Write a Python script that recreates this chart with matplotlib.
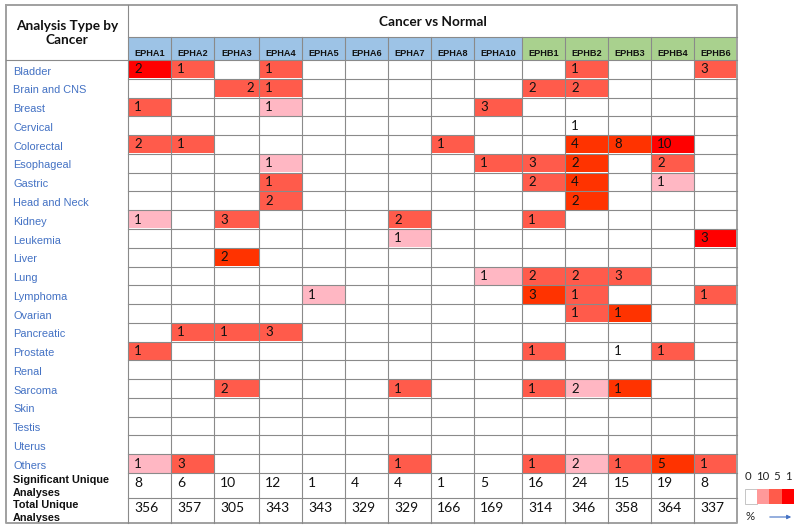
import matplotlib
matplotlib.use("Agg")
import matplotlib.pyplot as plt
from matplotlib.patches import Rectangle, FancyArrowPatch

# ---------------- data ----------------
genes = ["EPHA1", "EPHA2", "EPHA3", "EPHA4", "EPHA5", "EPHA6", "EPHA7",
         "EPHA8", "EPHA10", "EPHB1", "EPHB2", "EPHB3", "EPHB4", "EPHB6"]
gene_family = ["A"] * 9 + ["B"] * 5
cancers = ["Bladder", "Brain and CNS", "Breast", "Cervical", "Colorectal",
           "Esophageal", "Gastric", "Head and Neck", "Kidney", "Leukemia",
           "Liver", "Lung", "Lymphoma", "Ovarian", "Pancreatic", "Prostate",
           "Renal", "Sarcoma", "Skin", "Testis", "Uterus", "Others"]
# number of analyses per cell (0 = empty)
counts = [
    [2, 1, 0, 1, 0, 0, 0, 0, 0, 0, 1, 0, 0, 3],
    [0, 0, 2, 1, 0, 0, 0, 0, 0, 2, 2, 0, 0, 0],
    [1, 0, 0, 1, 0, 0, 0, 0, 3, 0, 0, 0, 0, 0],
    [0, 0, 0, 0, 0, 0, 0, 0, 0, 0, 1, 0, 0, 0],
    [2, 1, 0, 0, 0, 0, 0, 1, 0, 0, 4, 8, 10, 0],
    [0, 0, 0, 1, 0, 0, 0, 0, 1, 3, 2, 0, 2, 0],
    [0, 0, 0, 1, 0, 0, 0, 0, 0, 2, 4, 0, 1, 0],
    [0, 0, 0, 2, 0, 0, 0, 0, 0, 0, 2, 0, 0, 0],
    [1, 0, 3, 0, 0, 0, 2, 0, 0, 1, 0, 0, 0, 0],
    [0, 0, 0, 0, 0, 0, 1, 0, 0, 0, 0, 0, 0, 3],
    [0, 0, 2, 0, 0, 0, 0, 0, 0, 0, 0, 0, 0, 0],
    [0, 0, 0, 0, 0, 0, 0, 0, 1, 2, 2, 3, 0, 0],
    [0, 0, 0, 0, 1, 0, 0, 0, 0, 3, 1, 0, 0, 1],
    [0, 0, 0, 0, 0, 0, 0, 0, 0, 0, 1, 1, 0, 0],
    [0, 1, 1, 3, 0, 0, 0, 0, 0, 0, 0, 0, 0, 0],
    [1, 0, 0, 0, 0, 0, 0, 0, 0, 1, 0, 1, 1, 0],
    [0, 0, 0, 0, 0, 0, 0, 0, 0, 0, 0, 0, 0, 0],
    [0, 0, 2, 0, 0, 0, 1, 0, 0, 1, 2, 1, 0, 0],
    [0, 0, 0, 0, 0, 0, 0, 0, 0, 0, 0, 0, 0, 0],
    [0, 0, 0, 0, 0, 0, 0, 0, 0, 0, 0, 0, 0, 0],
    [0, 0, 0, 0, 0, 0, 0, 0, 0, 0, 0, 0, 0, 0],
    [1, 3, 0, 0, 0, 0, 1, 0, 0, 1, 2, 1, 5, 1],
]
# colour strength of each cell (0 none ... 4 strongest)
levels = [
    [4, 2, 0, 2, 0, 0, 0, 0, 0, 0, 2, 0, 0, 2],
    [0, 0, 2, 2, 0, 0, 0, 0, 0, 2, 2, 0, 0, 0],
    [2, 0, 0, 1, 0, 0, 0, 0, 2, 0, 0, 0, 0, 0],
    [0, 0, 0, 0, 0, 0, 0, 0, 0, 0, 0, 0, 0, 0],
    [2, 2, 0, 0, 0, 0, 0, 2, 0, 0, 3, 3, 4, 0],
    [0, 0, 0, 1, 0, 0, 0, 0, 2, 2, 3, 0, 2, 0],
    [0, 0, 0, 2, 0, 0, 0, 0, 0, 2, 3, 0, 1, 0],
    [0, 0, 0, 2, 0, 0, 0, 0, 0, 0, 3, 0, 0, 0],
    [1, 0, 2, 0, 0, 0, 2, 0, 0, 2, 0, 0, 0, 0],
    [0, 0, 0, 0, 0, 0, 1, 0, 0, 0, 0, 0, 0, 4],
    [0, 0, 3, 0, 0, 0, 0, 0, 0, 0, 0, 0, 0, 0],
    [0, 0, 0, 0, 0, 0, 0, 0, 1, 2, 2, 2, 0, 0],
    [0, 0, 0, 0, 1, 0, 0, 0, 0, 3, 2, 0, 0, 2],
    [0, 0, 0, 0, 0, 0, 0, 0, 0, 0, 2, 3, 0, 0],
    [0, 2, 2, 2, 0, 0, 0, 0, 0, 0, 0, 0, 0, 0],
    [2, 0, 0, 0, 0, 0, 0, 0, 0, 2, 0, 0, 2, 0],
    [0, 0, 0, 0, 0, 0, 0, 0, 0, 0, 0, 0, 0, 0],
    [0, 0, 2, 0, 0, 0, 2, 0, 0, 2, 1, 3, 0, 0],
    [0, 0, 0, 0, 0, 0, 0, 0, 0, 0, 0, 0, 0, 0],
    [0, 0, 0, 0, 0, 0, 0, 0, 0, 0, 0, 0, 0, 0],
    [0, 0, 0, 0, 0, 0, 0, 0, 0, 0, 0, 0, 0, 0],
    [1, 2, 0, 0, 0, 0, 2, 0, 0, 2, 1, 2, 3, 2],
]
# cells whose value is drawn even though uncoloured: (row, col)
shown_white = [(3, 10), (15, 11)]
significant = [8, 6, 10, 12, 1, 4, 4, 1, 5, 16, 24, 15, 19, 8]
total = [356, 357, 305, 343, 343, 329, 329, 166, 169, 314, 346, 358, 364, 337]
legend_labels = ["0", "10", "5", "1"]

# ---------------- layout / style ----------------
level_colors = ["#FFFFFF", "#FFB7C3", "#FF5B4B", "#FF3300", "#FF0000"]
legend_colors = ["#FFFFFF", "#FF9999", "#FF5B4B", "#FF0000"]
family_colors = {"A": "#9DC3E6", "B": "#A9D18E"}
grid_c = "#8A8A8A"
label_blue = "#4472C4"
num_font = ["Lato", "DejaVu Sans"]
lab_font = ["Liberation Sans", "DejaVu Sans"]

col_edges = [128, 171, 214, 259, 302, 345, 388, 431, 474, 522, 565, 608, 651, 694, 737]
L, R, T, B = 6, 737, 5, 523
title_bot, head_bot = 37, 60
data_bot = 473
row_h = (data_bot - head_bot) / len(cancers)
sig_bot = 498

fig = plt.figure(figsize=(8, 5.3), dpi=100)
ax = fig.add_axes([0, 0, 1, 1])
ax.set_xlim(0, 800)
ax.set_ylim(530, 0)
ax.axis("off")

def rect(x0, y0, x1, y1, fc, ec="none", lw=0, z=1):
    ax.add_patch(Rectangle((x0, y0), x1 - x0, y1 - y0, facecolor=fc,
                           edgecolor=ec, linewidth=lw, zorder=z))

# header gene cells
for j, g in enumerate(genes):
    x0, x1 = col_edges[j], col_edges[j + 1]
    rect(x0, title_bot, x1, head_bot, family_colors[gene_family[j]])
    ax.text((x0 + x1) / 2, 53.5, g, ha="center", va="center", fontsize=6.6,
            fontweight="bold", family=lab_font, color="#111111", zorder=5)

# data cells
for i, c in enumerate(cancers):
    y0 = head_bot + i * row_h
    y1 = y0 + row_h
    ax.text(13, (y0 + y1) / 2 + 2.2, c, ha="left", va="center", fontsize=7.9,
            family=lab_font, color=label_blue, zorder=5)
    for j in range(len(genes)):
        x0, x1 = col_edges[j], col_edges[j + 1]
        lv = levels[i][j]
        if lv:
            rect(x0 + 0.5, y0 + 0.5, x1 - 0.5, y1 - 0.5, level_colors[lv])
        v = counts[i][j]
        if v and (lv or (i, j) in shown_white):
            if (i, j) == (1, 2):
                ax.text(x1 - 5, (y0 + y1) / 2, str(v), ha="right", va="center",
                        fontsize=9.5, family=num_font, color="#111111", zorder=5)
            else:
                ax.text(x0 + 6, (y0 + y1) / 2, str(v), ha="left", va="center",
                        fontsize=9.5, family=num_font, color="#111111", zorder=5)

# summary rows
for j in range(len(genes)):
    x0 = col_edges[j]
    ax.text(x0 + 6, (data_bot + sig_bot) / 2 - 2.5, str(significant[j]), ha="left",
            va="center", fontsize=10, family=num_font, color="#111111", zorder=5)
    ax.text(x0 + 6, (sig_bot + B) / 2 - 2.5, str(total[j]), ha="left",
            va="center", fontsize=10, family=num_font, color="#111111", zorder=5)
ax.text(13, (data_bot + sig_bot) / 2 + 1, "Significant Unique\nAnalyses", ha="left",
        va="center", fontsize=7.8, fontweight="bold", family=lab_font,
        linespacing=1.4, color="#111111")
ax.text(13, (sig_bot + B) / 2 + 1, "Total Unique\nAnalyses", ha="left",
        va="center", fontsize=7.8, fontweight="bold", family=lab_font,
        linespacing=1.4, color="#111111")

# titles
ax.text((col_edges[0] + R) / 2, 22, "Cancer vs Normal", ha="center", va="center",
        fontsize=9.8, fontweight="bold", family=num_font, color="#111111")
ax.text((L + col_edges[0]) / 2, 33, "Analysis Type by\nCancer", ha="center",
        va="center", fontsize=9.8, fontweight="bold", family=num_font,
        linespacing=1.3, color="#111111")

# grid lines
lw = 0.8
ax.plot([L, R, R, L, L], [T, T, B, B, T], color="#A0A0A0", lw=1.4, zorder=6)
ax.plot([col_edges[0]] * 2, [T, B], color=grid_c, lw=lw, zorder=6)
ax.plot([col_edges[0], R], [title_bot] * 2, color=grid_c, lw=lw, zorder=6)
ax.plot([L, R], [head_bot] * 2, color=grid_c, lw=lw, zorder=6)
for x in col_edges[1:-1]:
    ax.plot([x, x], [title_bot, B], color=grid_c, lw=lw, zorder=6)
for i in range(1, len(cancers)):
    y = head_bot + i * row_h
    ax.plot([col_edges[0], R], [y, y], color=grid_c, lw=lw, zorder=6)
for y in (data_bot, sig_bot):
    ax.plot([col_edges[0], R], [y, y], color=grid_c, lw=lw, zorder=6)

# legend
lx = [748, 763, 777, 788]
for x, t in zip(lx, legend_labels):
    ax.text(x, 476, t, ha="center", va="center", fontsize=8.2,
            family=num_font, color="#222222")
bx = 745
bw = 12.2
for k, col in enumerate(legend_colors):
    rect(bx + k * bw, 489, bx + (k + 1) * bw, 504, col,
         ec="#BBBBBB" if k == 0 else "none", lw=0.6 if k == 0 else 0)
ax.text(750, 517, "%", ha="center", va="center", fontsize=8.2,
        family=num_font, color="#222222")
ax.add_patch(FancyArrowPatch((767, 517), (794, 517), arrowstyle="-|>",
                             mutation_scale=6, color=label_blue, lw=0.8))

fig.savefig("out.png", dpi=100)
